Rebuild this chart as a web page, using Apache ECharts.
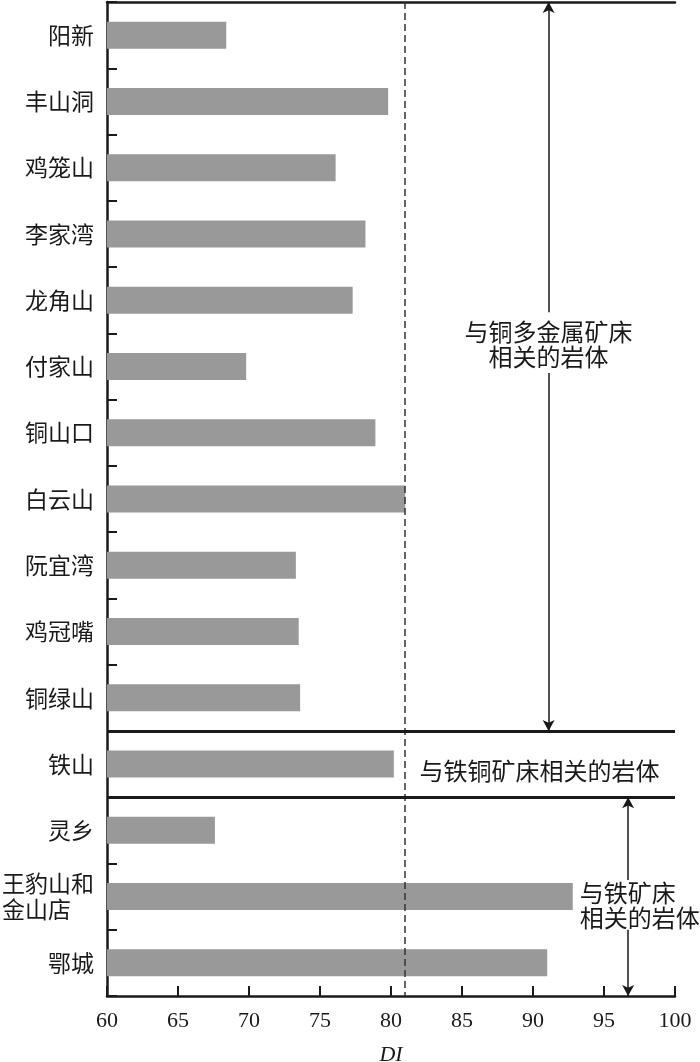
<!DOCTYPE html>
<html>
<head>
<meta charset="utf-8">
<script src="https://cdn.jsdelivr.net/npm/echarts@6/dist/echarts.min.js"></script>
<style>html,body{margin:0;padding:0;background:#fff;}</style>
</head>
<body>
<div id="main" style="width:700px;height:1062px;"></div>
<script>
// 岩体名称，自上而下
const categories = ['阳新', '丰山洞', '鸡笼山', '李家湾', '龙角山', '付家山', '铜山口', '白云山',
  '阮宜湾', '鸡冠嘴', '铜绿山', '铁山', '灵乡', '王豹山和金山店', '鄂城'];
// 分异指数 DI
const diValues = [68.4, 79.8, 76.1, 78.2, 77.3, 69.8, 78.9, 81.0, 73.3, 73.5, 73.6, 80.2, 67.6, 92.8, 91.0];
// x 轴刻度
const xMin = 60;
const xMax = 100;
const xStep = 5;
// 参考虚线
const diRef = 81;
// 分组分隔线（按行序号）
const groupBreaks = [11, 12];
const groupText = ['与铜多金属矿床\n相关的岩体', '与铁铜矿床相关的岩体', '与铁矿床\n相关的岩体'];

const cnFont = '"Noto Sans CJK SC", sans-serif';
const numFont = '"Liberation Serif", "DejaVu Serif", serif';
const ink = '#1a1a1a';
const rows = categories.length;

const chart = echarts.init(document.getElementById('main'));

const arrowLine = { color: ink, width: 1.5, type: 'solid' };

const option = {
  animation: false,
  grid: { left: 107, right: 25, top: 2, bottom: 66, outerBoundsMode: 'none' },
  xAxis: [
    {
      type: 'value',
      min: xMin,
      max: xMax,
      interval: xStep,
      name: 'DI',
      nameLocation: 'middle',
      nameGap: 48,
      nameTextStyle: { fontFamily: numFont, fontStyle: 'italic', fontSize: 22, color: ink },
      axisLine: { show: true, onZero: false, lineStyle: { color: ink, width: 2.5 } },
      axisTick: { show: true, inside: true, length: 10, lineStyle: { color: ink, width: 2 } },
      axisLabel: { fontFamily: numFont, fontSize: 22, color: ink, margin: 14 },
      splitLine: { show: false },
    },
    {
      type: 'value',
      position: 'top',
      min: xMin,
      max: xMax,
      axisLine: { show: true, onZero: false, lineStyle: { color: ink, width: 2.5 } },
      axisTick: { show: false },
      axisLabel: { show: false },
      splitLine: { show: false },
    },
  ],
  yAxis: [
    {
      type: 'category',
      inverse: true,
      data: categories,
      axisLine: { show: true, onZero: false, lineStyle: { color: ink, width: 2.5 } },
      axisTick: { show: true, inside: true, length: 10, lineStyle: { color: ink, width: 2 } },
      axisLabel: {
        fontFamily: cnFont,
        fontSize: 23,
        color: ink,
        margin: 13,
        lineHeight: 26,
        formatter(v) {
          if (v.length > 4) {
            return v.slice(0, 4) + '\n' + v.slice(4) + '\u3000';
          }
          return v;
        },
      },
      splitLine: { show: false },
    },
    {
      // 辅助轴：按行计的连续坐标，用于分隔线和箭头
      type: 'value',
      inverse: true,
      min: 0,
      max: rows,
      show: false,
    },
  ],
  series: [
    {
      type: 'bar',
      data: diValues,
      barWidth: 27,
      itemStyle: { color: '#999999' },
      markLine: {
        silent: true,
        symbol: 'none',
        label: { show: false },
        lineStyle: { color: '#333', width: 1.5, type: [7, 4] },
        data: [{ xAxis: diRef }],
      },
    },
    {
      type: 'line',
      yAxisIndex: 1,
      data: [],
      markLine: {
        silent: true,
        symbol: 'none',
        label: { show: false },
        lineStyle: { color: ink, width: 3, type: 'solid' },
        data: groupBreaks.map((b) => [{ coord: [xMin, b] }, { coord: [xMax, b] }]),
      },
    },
    {
      // 箭头
      type: 'line',
      yAxisIndex: 1,
      data: [],
      markLine: {
        silent: true,
        label: { show: false },
        symbolSize: [9, 11],
        lineStyle: arrowLine,
        data: [
          [{ coord: [91.1, 0], symbol: 'arrow' }, { coord: [91.1, 4.68], symbol: 'none' }],
          [{ coord: [91.1, 5.6], symbol: 'none' }, { coord: [91.1, 11], symbol: 'arrow' }],
          [{ coord: [96.7, 12], symbol: 'arrow' }, { coord: [96.7, 13.25], symbol: 'none' }],
          [{ coord: [96.7, 14.0], symbol: 'none' }, { coord: [96.7, 15], symbol: 'arrow' }],
        ],
      },
      markPoint: {
        silent: true,
        symbol: 'circle',
        symbolSize: 0,
        label: {
          show: true,
          fontFamily: cnFont,
          fontSize: 24,
          lineHeight: 25,
          color: ink,
          formatter: (p) => p.name,
        },
        data: [
          { name: groupText[0], coord: [91.1, 5.17], label: { align: 'center', verticalAlign: 'middle', position: 'inside' } },
          { name: groupText[1], coord: [82.0, 11.6], label: { align: 'left', verticalAlign: 'middle', position: 'inside' } },
          { name: groupText[2], coord: [93.3, 13.63], label: { align: 'left', verticalAlign: 'middle', position: 'inside' } },
        ],
      },
    },
  ],
};

chart.setOption(option);
</script>
</body>
</html>
